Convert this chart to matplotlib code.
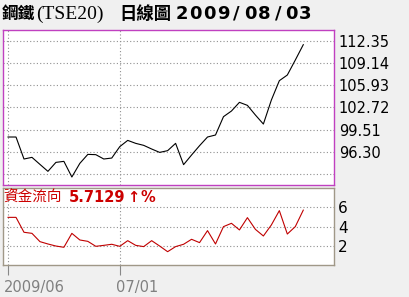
import matplotlib.pyplot as plt
from matplotlib.transforms import ScaledTranslation

# daily close, steel index (TSE20), 14 days of June then July 1 .. Aug 3
close = [98.43, 98.43, 95.24, 95.48, 94.46, 93.45, 94.75, 94.90, 92.63, 94.61,
         95.91, 95.87, 95.24, 95.38, 97.03, 97.94, 97.51, 97.22, 96.69, 96.20,
         96.45, 97.51, 94.42, 95.82, 97.17, 98.43, 98.72, 101.38, 102.20, 103.46,
         103.02, 101.62, 100.31, 103.79, 106.60, 107.42, 109.59, 111.82]
# money flow (%)
flow = [4.97, 4.97, 3.44, 3.33, 2.48, 2.24, 2.03, 1.90, 3.33, 2.65,
        2.51, 2.00, 2.10, 2.21, 2.00, 2.58, 2.10, 1.97, 2.58, 2.03,
        1.45, 1.97, 2.21, 2.72, 2.38, 3.61, 2.24, 4.02, 4.36, 3.68,
        4.94, 3.74, 3.06, 4.19, 5.66, 3.26, 4.02, 5.71]
price_ticks = [112.35, 109.14, 105.93, 102.72, 99.51, 96.30]
price_grid = price_ticks + [93.09]
flow_ticks = [6, 4, 2]
date_ticks = [0, 14]
date_labels = ["2009/06", "07/01"]

W, H = 410, 297
bg = "#f0f0f0"
fig = plt.figure(figsize=(W / 100, H / 100), dpi=100, facecolor=bg)


def box(l, t, r, b):
    return [l / W, 1 - b / H, (r - l) / W, (b - t) / H]


x = list(range(len(close)))
xlim = (-0.63, 40.85)
grid_kw = dict(color="#909090", lw=0.8, ls=(0, (1, 2)), zorder=0)

# upper panel - price
ax1 = fig.add_axes(box(3, 30, 334, 185))
ax1.plot(x, close, color="black", lw=0.8)
ax1.set_xlim(*xlim)
ax1.set_ylim(91.47, 113.95)
for v in price_grid:
    ax1.axhline(v, **grid_kw)
for d in date_ticks:
    ax1.axvline(d, **grid_kw)
ax1.set_xticks([])
ax1.yaxis.tick_right()
ax1.set_yticks(price_ticks)
ax1.set_yticklabels(["%.2f" % v for v in price_ticks])
ax1.tick_params(axis="y", length=0, pad=3.5, labelsize=10.5)
for s in ax1.spines.values():
    s.set_color("#c040c0")
    s.set_linewidth(1)

# lower panel - money flow
ax2 = fig.add_axes(box(3, 188, 334, 265))
ax2.plot(x, flow, color="#c00000", lw=0.8)
ax2.set_xlim(*xlim)
ax2.set_ylim(0.085, 7.98)
for v in flow_ticks:
    ax2.axhline(v, **grid_kw)
for d in date_ticks:
    ax2.axvline(d, **grid_kw)
ax2.yaxis.tick_right()
ax2.set_yticks(flow_ticks)
ax2.tick_params(axis="y", length=0, pad=3, labelsize=11)
ax2.set_xticks(date_ticks)
ax2.set_xticklabels(date_labels, ha="left")
ax2.tick_params(axis="x", length=7, width=0.8, color="#888888", pad=3.5,
                labelsize=10.5, labelcolor="#808080")
shift = ScaledTranslation(-4 / 100, 0, fig.dpi_scale_trans)
for lab in ax2.get_xticklabels():
    lab.set_transform(lab.get_transform() + shift)
for s in ax2.spines.values():
    s.set_color("#a09888")
    s.set_linewidth(1)


def ftext(px, py, s, ha="left", **kw):
    fig.text(px / W, 1 - py / H, s, va="center", ha=ha, **kw)


# title
ftext(2, 14, "鋼鐵", fontsize=12, family=["Noto Sans CJK TC"], fontweight="bold")
ftext(36, 14, "(TSE20)", fontsize=14, family="Liberation Serif")
ftext(119, 14, "日線圖", fontsize=12.5, family=["Noto Sans CJK TC"], fontweight="bold")
for i, ch in enumerate("2009/08/03"):
    ftext(182 + i * 13.7, 14, ch, ha="center", fontsize=13, fontweight="bold",
          family="DejaVu Sans")

# money flow label
red = "#cc0000"
ftext(3, 198, "資金流向", fontsize=10.5, color=red, family=["Noto Sans CJK TC"])
ftext(69, 198, "5.7129", fontsize=10.5, color=red, fontweight="bold", family="DejaVu Sans")
ftext(127, 198, "↑", fontsize=10.5, color=red, fontweight="bold", family="DejaVu Sans")
ftext(141, 198, "%", fontsize=10.5, color=red, fontweight="bold", family="DejaVu Sans")

fig.savefig("out.png", dpi=100, facecolor=bg)
